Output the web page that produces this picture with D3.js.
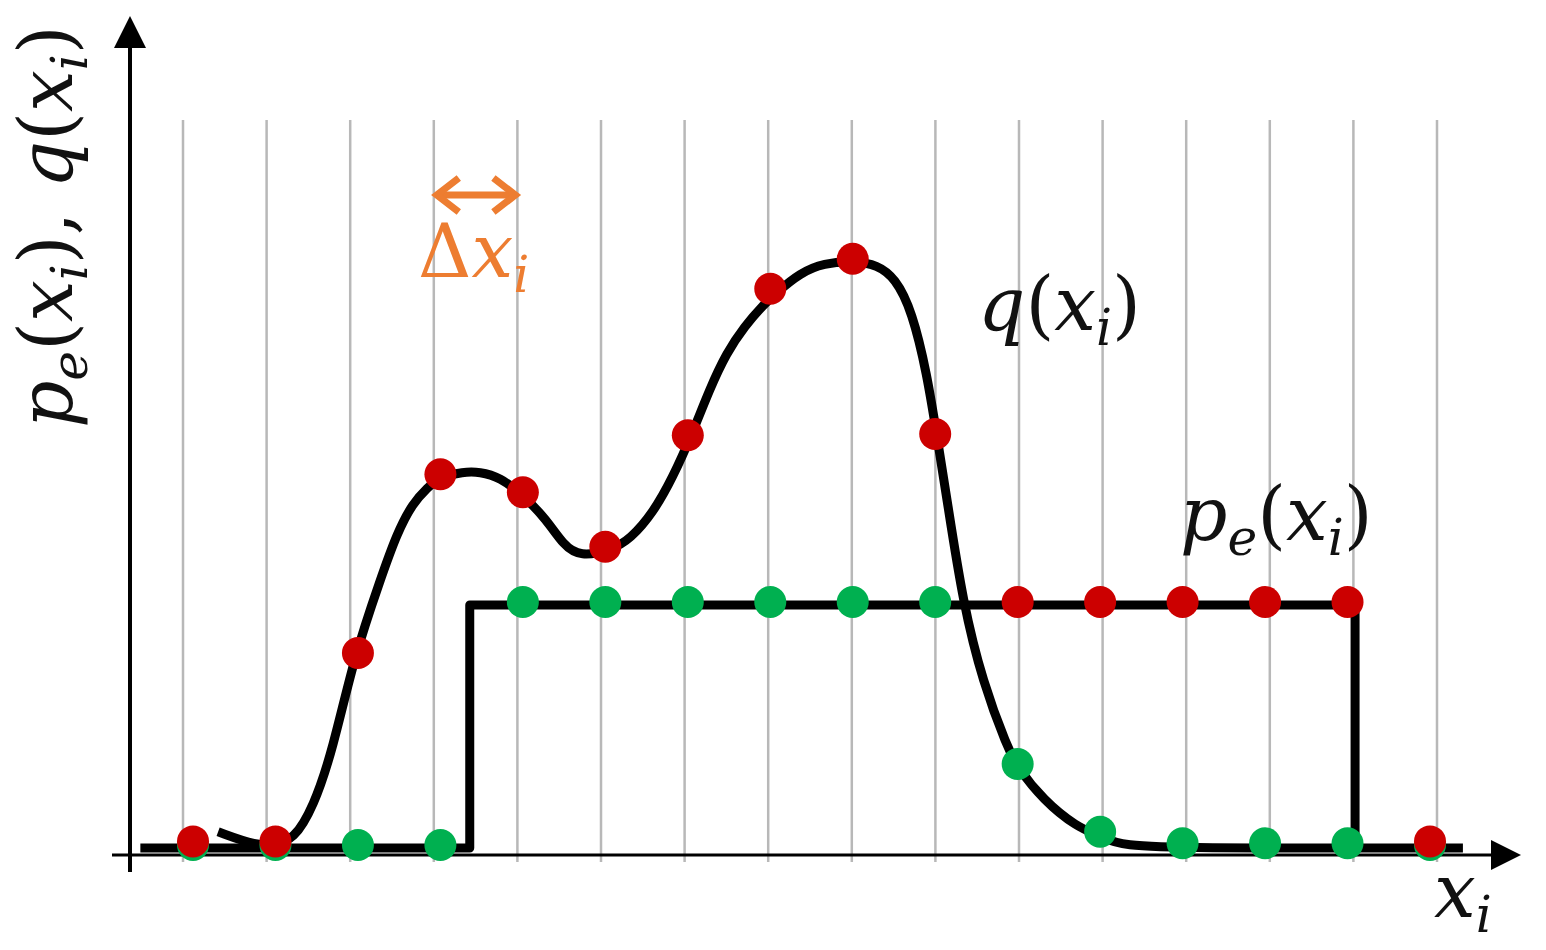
<!DOCTYPE html>
<meta charset="utf-8">
<title>p_e and q sampling</title>
<style>
body { margin: 0; background: #fff; }
.grid line { stroke: #b8b8b8; stroke-width: 2.5px; }
.curve { fill: none; stroke: #000; stroke-width: 9px; stroke-linejoin: round; }
.math { font-family: "DejaVu Serif", serif; font-style: italic; fill: #111; }
</style>
<svg width="1546" height="950"></svg>
<script src="https://d3js.org/d3.v7.min.js"></script>
<script>
// sample points x_i (grid line index)
var sampleIndex = [0, 1, 2, 3, 4, 5, 6, 7, 8, 9, 10, 11, 12, 13, 14, 15]
// q(x_i) and p_e(x_i) read at each sample (0..100 relative height)
var qSamples  = [0.6, 0.6, 32, 61.8, 58.8, 49.7, 68.3, 92.7, 97.7, 68.5, 13.5, 2.2, 0.3, 0.3, 0.3, 0.6]
var peSamples = [0, 0, 0, 0, 40.5, 40.5, 40.5, 40.5, 40.5, 40.5, 40.5, 40.5, 40.5, 40.5, 40.5, 0]

// traced outline of the smooth q curve
var qCurveX = [0.42, 0.89, 1.10, 1.32, 1.56, 1.79, 2.05, 2.36, 2.56, 2.75, 2.92, 3.07, 3.35, 3.55, 3.79,
	4.07, 4.35, 4.55, 4.75, 5.13, 5.35, 5.62, 5.86, 6.09, 6.30, 6.50, 6.72, 6.94, 7.11, 7.38, 7.66,
	8.04, 8.30, 8.52, 8.72, 8.90, 9.02, 9.14, 9.33, 9.57, 9.86, 9.98, 10.29, 10.69, 10.97, 11.21, 12.16, 14.07]
var qCurveY = [2.7, 0.3, 0.7, 1.3, 6.8, 16.3, 32.0, 44.7, 52.5, 57.5, 60.0, 61.8, 62.7, 62.7, 61.8,
	58.8, 54.7, 50.5, 48.5, 49.7, 51.5, 55.8, 61.8, 69.0, 76.5, 82.5, 87.0, 90.5, 92.7, 95.8, 97.5,
	97.8, 97.2, 95.0, 89.5, 79.0, 68.5, 58.0, 40.8, 27.5, 16.8, 13.5, 8.0, 3.5, 2.0, 0.3, 0, 0]

// step function p_e (value holds until next break)
var peStepX = [-0.51, 3.43, 14.02, 15.31]
var peStepY = [0, 40.5, 0, 0]

var RED = "#cc0000", GREEN = "#00b050", ORANGE = "#ed7d31"

var svg = d3.select("svg")

var x = d3.scaleLinear().domain([0, 15]).range([183, 1437])
// the sample dots sit slightly off the grid lines in the original
var xDot = d3.scaleLinear().domain([0, 15]).range([193, 1430])
var y = d3.scaleLinear().domain([0, 100]).range([848, 248])

// grid
svg.append("g").attr("class", "grid")
	.selectAll("line")
	.data(sampleIndex)
	.enter().append("line")
		.attr("x1", function(d) { return x(d) })
		.attr("x2", function(d) { return x(d) })
		.attr("y1", 120)
		.attr("y2", 862)

// axes with arrow heads
svg.append("line").attr("x1", 130).attr("x2", 130).attr("y1", 40).attr("y2", 872)
	.attr("stroke", "#000").attr("stroke-width", 4)
svg.append("path").attr("d", "M130,16 L114,48 L146,48 Z").attr("fill", "#000")
svg.append("line").attr("x1", 112).attr("x2", 1500).attr("y1", 855).attr("y2", 855)
	.attr("stroke", "#000").attr("stroke-width", 3)
svg.append("path").attr("d", "M1521,855 L1491,840 L1491,870 Z").attr("fill", "#000")

// p_e step line
var peLine = d3.line()
	.x(function(d) { return x(d[0]) })
	.y(function(d) { return y(d[1]) })
	.curve(d3.curveStepAfter)
svg.append("path").attr("class", "curve")
	.attr("stroke-linejoin", "miter")
	.attr("d", peLine(d3.zip(peStepX, peStepY)))

// q smooth curve
var qLine = d3.line()
	.x(function(d) { return x(d[0]) })
	.y(function(d) { return y(d[1]) })
	.curve(d3.curveBasis)
svg.append("path").attr("class", "curve")
	.attr("d", qLine(d3.zip(qCurveX, qCurveY)))

// sample dots: lower value green, higher value red on top
var dots = []
sampleIndex.forEach(function(i, k) {
	var q = qSamples[k], p = peSamples[k]
	dots.push({ i: i, v: Math.min(q, p), c: GREEN })
	dots.push({ i: i, v: Math.max(q, p), c: RED })
})
svg.append("g")
	.selectAll("circle")
	.data(dots.filter(function(d) { return d.c == GREEN }).concat(dots.filter(function(d) { return d.c == RED })))
	.enter().append("circle")
		.attr("cx", function(d) { return xDot(d.i) })
		.attr("cy", function(d) { return y(d.v) - 3 })
		.attr("r", 16)
		.attr("fill", function(d) { return d.c })

// Δx_i arrow
var ay = 195, ax0 = x(3) + 3, ax1 = x(4) - 2
svg.append("line").attr("x1", ax0 + 4).attr("x2", ax1 - 4).attr("y1", ay).attr("y2", ay)
	.attr("stroke", ORANGE).attr("stroke-width", 7)
svg.append("path")
	.attr("d", "M" + (ax0 + 22) + "," + (ay - 17) + " L" + ax0 + "," + ay + " L" + (ax0 + 22) + "," + (ay + 17) +
		" M" + (ax1 - 22) + "," + (ay - 17) + " L" + ax1 + "," + ay + " L" + (ax1 - 22) + "," + (ay + 17))
	.attr("fill", "none").attr("stroke", ORANGE).attr("stroke-width", 7)

// math labels: [text, kind]  kind: i italic, r roman, s subscript
function mathText(g, parts, size) {
	var t = g.append("text").attr("class", "math").attr("font-size", size)
	var sub = false
	parts.forEach(function(p) {
		var ts = t.append("tspan").text(p[0])
		if (p[1] == "r") ts.attr("font-style", "normal")
		if (p[1] == "s") {
			ts.attr("font-size", size * 0.68).attr("dy", size * 0.2)
			sub = true
		} else if (sub) {
			ts.attr("dy", -size * 0.2)
			sub = false
		}
	})
	return t
}

var FS = 74
var qLabel = [["q", "i"], ["(", "r"], ["x", "i"], ["i", "s"], [")", "r"]]
var peLabel = [["p", "i"], ["e", "s"], ["(", "r"], ["x", "i"], ["i", "s"], [")", "r"]]
var yLabel = peLabel.concat([[",", "r"], [" ", "r"]]).concat(qLabel)
var xLabel = [["x", "i"], ["i", "s"]]
var dxLabel = [["Δ", "r"], ["x", "i"], ["i", "s"]]

mathText(svg.append("g").attr("transform", "translate(978,330)"), qLabel, FS)
mathText(svg.append("g").attr("transform", "translate(1180,540)"), peLabel, FS)
mathText(svg.append("g").attr("transform", "translate(1434,917)"), xLabel, FS)
mathText(svg.append("g").attr("transform", "translate(72,428) rotate(-90)"), yLabel, FS)
mathText(svg.append("g").attr("transform", "translate(418,277)"), dxLabel, FS)
	.style("fill", ORANGE)
</script>
